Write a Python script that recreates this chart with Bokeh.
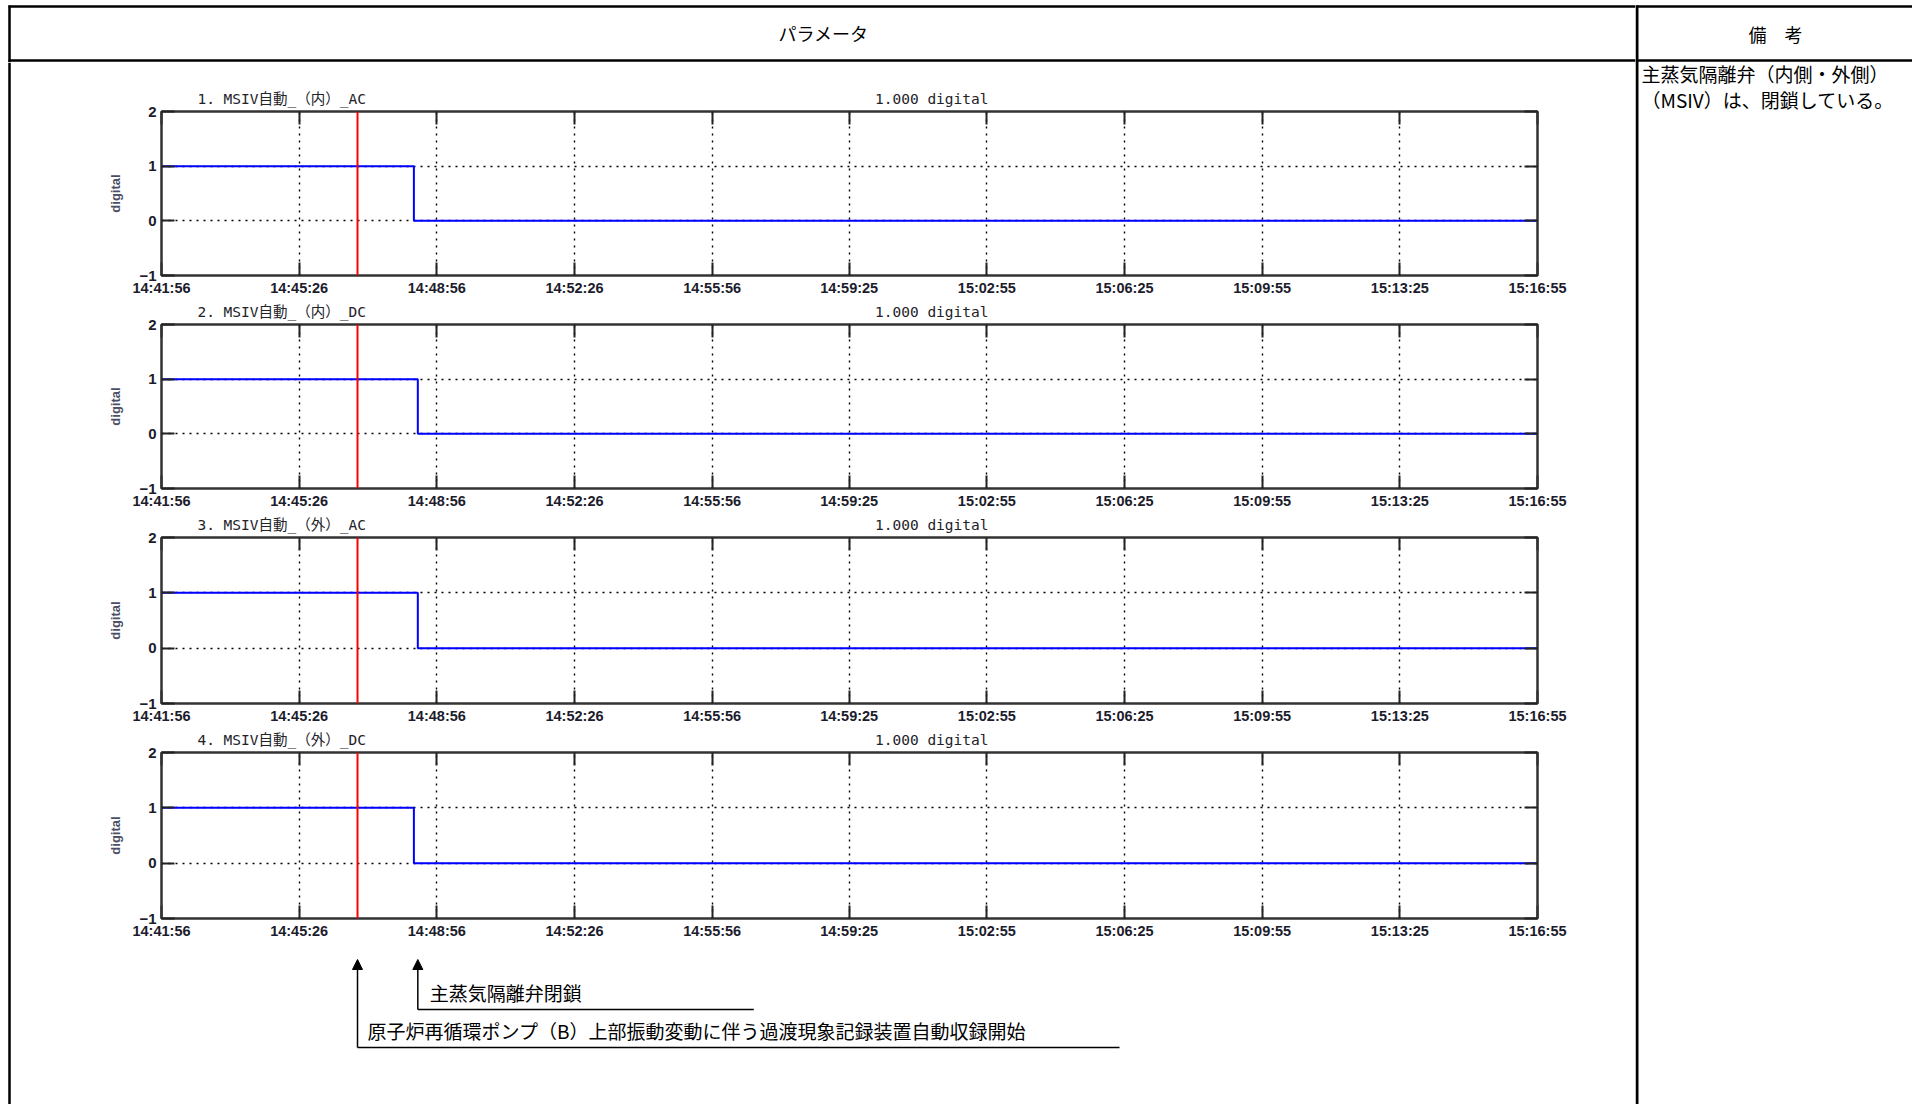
from bokeh.plotting import figure
from bokeh.layouts import column, row
from bokeh.models import (Range1d, LinearAxis, FixedTicker, Span, Arrow,
                          NormalHead, Grid)
from bokeh.core.properties import value
from bokeh.embed import file_html
from bokeh.resources import INLINE

# ---------------- data ----------------
start_time = "14:41:56"
end_time = "15:16:55"
x_tick_labels = ["14:41:56", "14:45:26", "14:48:56", "14:52:26", "14:55:56",
                 "14:59:25", "15:02:55", "15:06:25", "15:09:55", "15:13:25",
                 "15:16:55"]
y_ticks = [-1, 0, 1, 2]
y_tick_labels = ["\u22121", "0", "1", "2"]
panel_titles = ["1.  MSIV自動_（内）_AC", "2.  MSIV自動_（内）_DC",
                "3.  MSIV自動_（外）_AC", "4.  MSIV自動_（外）_DC"]
panel_scales = ["1.000 digital", "1.000 digital", "1.000 digital", "1.000 digital"]
y_label = "digital"
record_start_time = "14:46:55"
closure_times = ["14:48:21", "14:48:27", "14:48:27", "14:48:21"]
state_before = [1, 1, 1, 1]
state_after = [0, 0, 0, 0]
closure_note = "主蒸気隔離弁閉鎖"
record_note = "原子炉再循環ポンプ（B）上部振動変動に伴う過渡現象記録装置自動収録開始"
header_left = "パラメータ"
header_right = "備　考"
remarks = ["主蒸気隔離弁（内側・外側）", "（MSIV）は、閉鎖している。"]


def to_sec(t):
    h, m, s = map(int, t.split(":"))
    return h * 3600 + m * 60 + s


T0 = to_sec(start_time)
T_END = to_sec(end_time) - T0
tick_pos = [to_sec(t) - T0 for t in x_tick_labels]
t_record = to_sec(record_start_time) - T0
t_close = [to_sec(t) - T0 for t in closure_times]

# ---------------- layout constants (page pixels) ----------------
PAGE_W, PAGE_H = 1912, 1104
HEADER_H = 62
STRIP_W = 11
PANEL_W = 1624
LEFT_W = STRIP_W + PANEL_W
REM_W = PAGE_W - LEFT_W
BODY_H = PAGE_H - HEADER_H
FRAME_H = 166
ML, MR = 150, 98
FRAME_W = PANEL_W - ML - MR
sec_per_px = T_END / FRAME_W

JP = value("Noto Sans CJK JP")
TICK_FONT = "Liberation Sans"
TITLE_FONT = "DejaVu Sans Mono, Noto Sans CJK JP"
LINE_COL = "#333333"

x_range = Range1d(0, T_END)


def base_fig(w, h, **kw):
    return figure(width=w, height=h, output_backend="svg", toolbar_location=None,
                  x_axis_type=None, y_axis_type=None, **kw)


# ---------------- header (left part) ----------------
hdr = base_fig(LEFT_W, HEADER_H, x_range=Range1d(0, LEFT_W), y_range=Range1d(HEADER_H, 0),
               min_border=0, outline_line_color=None)
hdr.segment(x0=[8, 8, 9], y0=[6, 60, 5], x1=[LEFT_W, LEFT_W, 9], y1=[6, 60, HEADER_H],
            line_color="black", line_width=2.5)
hdr.text(x=[823], y=[32], text=[header_left], text_align="center", text_baseline="middle",
         text_font=JP, text_font_size="18px", text_color="black")

# ---------------- left border strip ----------------
strip = base_fig(STRIP_W, BODY_H, x_range=Range1d(0, STRIP_W), y_range=Range1d(BODY_H, 0),
                 min_border=0, outline_line_color=None)
strip.segment(x0=[9], y0=[0], x1=[9], y1=[BODY_H], line_color="black", line_width=2.5)


# ---------------- panels ----------------
def make_panel(i, top_b, bot_b):
    p = base_fig(PANEL_W, top_b + FRAME_H + bot_b, x_range=x_range, y_range=Range1d(-1, 2),
                 min_border_left=ML, min_border_right=MR,
                 min_border_top=top_b, min_border_bottom=bot_b,
                 outline_line_color=LINE_COL, outline_line_width=2)

    def axis(loc, ticks, labels, show):
        ax = LinearAxis(ticker=FixedTicker(ticks=ticks),
                        major_tick_in=13, major_tick_out=0, minor_tick_in=0, minor_tick_out=0,
                        axis_line_color=LINE_COL, axis_line_width=2,
                        major_tick_line_color="#222222", major_tick_line_width=2)
        if show:
            ax.major_label_overrides = {t: l for t, l in zip(ticks, labels)}
            ax.major_label_text_font = TICK_FONT
            ax.major_label_text_font_style = "bold"
            ax.major_label_text_color = "#1c1c2c"
        else:
            ax.major_label_overrides = {t: "" for t in ticks}
            ax.major_label_text_font_size = "0px"
            ax.major_label_standoff = 0
        p.add_layout(ax, loc)
        return ax

    xb = axis("below", tick_pos, x_tick_labels, True)
    xb.major_label_text_font_size = "14.5px"
    xb.major_label_standoff = 4
    axis("above", tick_pos, x_tick_labels, False)
    yl = axis("left", y_ticks, y_tick_labels, True)
    yl.major_label_text_font_size = "15px"
    yl.major_label_standoff = 5
    yl.axis_label = y_label
    yl.axis_label_text_font = TICK_FONT
    yl.axis_label_text_font_size = "13px"
    yl.axis_label_text_font_style = "bold"
    yl.axis_label_text_color = "#4a4f66"
    yl.axis_label_standoff = 13
    axis("right", y_ticks, y_tick_labels, False)

    # panel title and scale text, carried as labels of a tick-less top axis
    c_title = round(124.5 * sec_per_px)
    c_scale = round(770.5 * sec_per_px)
    lab = LinearAxis(ticker=FixedTicker(ticks=[c_title, c_scale]),
                     major_label_overrides={c_title: panel_titles[i], c_scale: panel_scales[i]},
                     major_tick_in=0, major_tick_out=0, minor_tick_in=0, minor_tick_out=0,
                     axis_line_color=None, major_tick_line_color=None,
                     major_label_standoff=5, major_label_text_font=TITLE_FONT,
                     major_label_text_font_size="14.5px", major_label_text_color="#222228")
    p.add_layout(lab, "above")

    for dim, tk in ((0, tick_pos), (1, y_ticks)):
        p.add_layout(Grid(dimension=dim, ticker=FixedTicker(ticks=tk),
                          grid_line_color="black", grid_line_dash="2 5",
                          grid_line_width=1.4))

    p.step(x=[0, t_close[i], T_END], y=[state_before[i], state_after[i], state_after[i]],
           mode="after", line_color="#0000ff", line_width=2)
    p.add_layout(Span(location=t_record, dimension="height", line_color="#ff0000",
                      line_width=2))
    return p


p1 = make_panel(0, 49, 21)
p2 = make_panel(1, 26, 21)
p3 = make_panel(2, 26, 23)
p4 = make_panel(3, 26, 24)

# ---------------- annotation arrows ----------------
ANN_H = BODY_H - sum(f.height for f in (p1, p2, p3, p4))
ann = base_fig(PANEL_W, ANN_H, x_range=x_range, y_range=Range1d(ANN_H, 0),
               min_border_left=ML, min_border_right=MR, min_border_top=0, min_border_bottom=0,
               outline_line_color=None)
ann_top = 1104 - ANN_H  # page y of the annotation area's top edge
for tx, y0 in ((t_record, 1047 - ann_top), (t_close[1], 1009 - ann_top)):
    ann.add_layout(Arrow(end=NormalHead(size=10, fill_color="black", line_color="black"),
                         x_start=tx, y_start=y0, x_end=tx, y_end=959 - ann_top,
                         line_width=1.5, line_color="black"))
ann.segment(x0=[t_record, t_close[1]], y0=[1047 - ann_top, 1009 - ann_top],
            x1=[t_record + 762 * sec_per_px, t_close[1] + 336 * sec_per_px],
            y1=[1047 - ann_top, 1009 - ann_top],
            line_color="black", line_width=1.5)
ann.text(x=[t_record, t_close[1]], y=[1030 - ann_top, 991.5 - ann_top],
         text=[record_note, closure_note],
         x_offset=[10, 12], text_baseline="middle", text_font=JP,
         text_font_size="19px", text_color="black")

# ---------------- remarks column (full height) ----------------
rem = base_fig(REM_W, PAGE_H, x_range=Range1d(0, REM_W), y_range=Range1d(PAGE_H, 0),
               min_border=0, outline_line_color=None)
rem.segment(x0=[0, 0, 1.5], y0=[6, 60, 5], x1=[REM_W, REM_W, 1.5], y1=[6, 60, PAGE_H],
            line_color="black", line_width=[2.5, 2.5, 3])
rem.text(x=[140], y=[33], text=[header_right], text_align="center", text_baseline="middle",
         text_font=JP, text_font_size="18px", text_color="black")
rem.text(x=[6, 6], y=[73, 99], text=remarks, text_baseline="middle", text_font=JP,
         text_font_size="19px", text_color="black")

layout = row(column(hdr, row(strip, column(p1, p2, p3, p4, ann))), rem)

open("out.html", "w").write(file_html(layout, INLINE))
